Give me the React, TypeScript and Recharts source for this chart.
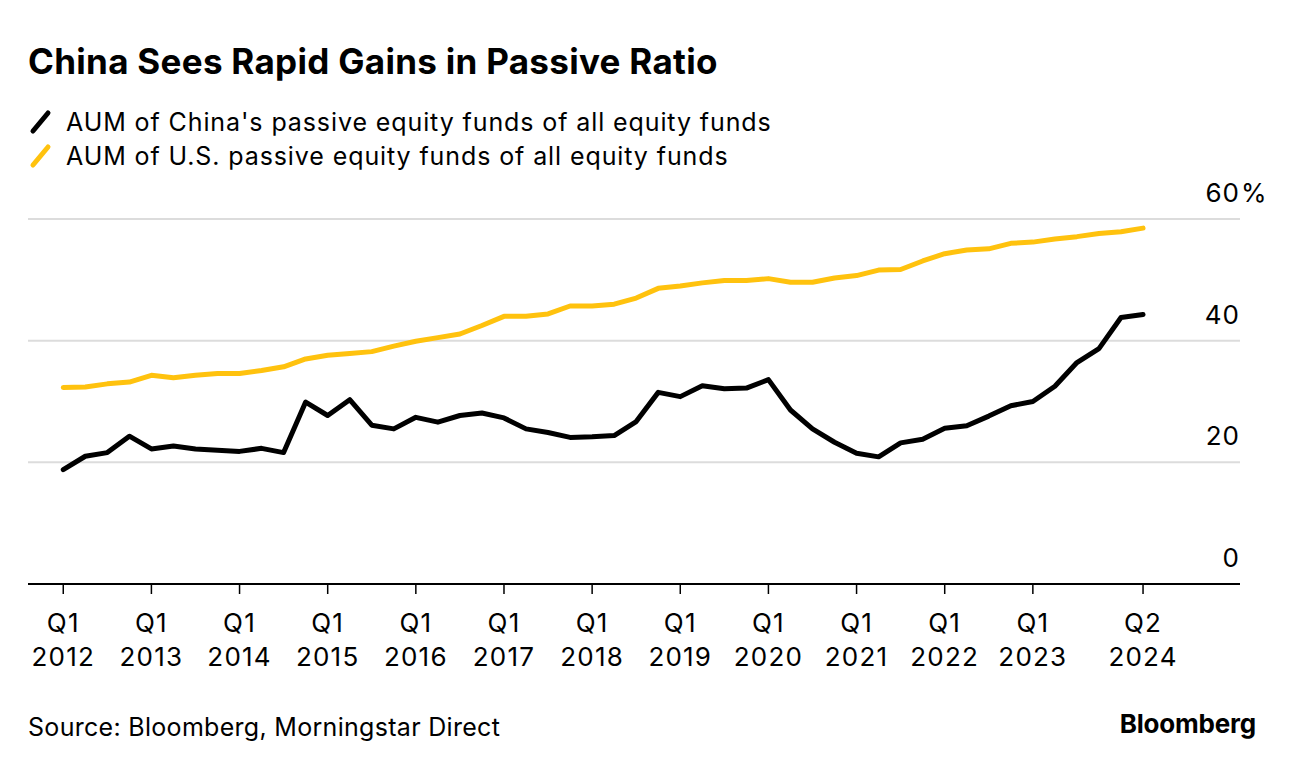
import React from 'react';
import { LineChart, Line, XAxis, YAxis, CartesianGrid } from 'recharts';

// Quarterly share of passive funds in equity fund AUM, Q1 2012 .. Q2 2024
const chinaShare = [
  18.8, 21.0, 21.6, 24.3, 22.2, 22.7, 22.2, 22.0, 21.8, 22.3,
  21.6, 29.9, 27.7, 30.3, 26.1, 25.5, 27.4, 26.6, 27.7, 28.1,
  27.3, 25.5, 24.9, 24.1, 24.2, 24.4, 26.7, 31.5, 30.8, 32.6,
  32.1, 32.2, 33.6, 28.6, 25.5, 23.3, 21.5, 20.9, 23.2, 23.8,
  25.6, 26.0, 27.6, 29.3, 30.0, 32.5, 36.4, 38.7, 43.8, 44.3,
];
const usShare = [
  32.3, 32.4, 32.9, 33.2, 34.3, 33.9, 34.3, 34.6, 34.6, 35.1,
  35.7, 37.0, 37.6, 37.9, 38.2, 39.1, 39.9, 40.5, 41.1, 42.5,
  44.0, 44.0, 44.4, 45.7, 45.7, 46.0, 47.0, 48.6, 49.0, 49.5,
  49.9, 49.9, 50.2, 49.6, 49.6, 50.3, 50.7, 51.6, 51.7, 53.1,
  54.3, 54.9, 55.1, 56.0, 56.2, 56.7, 57.1, 57.6, 57.9, 58.5,
];

// x tick positions (quarter index) and their two-line labels
const tickIndex = [0, 4, 8, 12, 16, 20, 24, 28, 32, 36, 40, 44, 49];
const tickQuarter = ['Q1', 'Q1', 'Q1', 'Q1', 'Q1', 'Q1', 'Q1', 'Q1', 'Q1', 'Q1', 'Q1', 'Q1', 'Q2'];
const tickYear = ['2012', '2013', '2014', '2015', '2016', '2017', '2018', '2019', '2020', '2021', '2022', '2023', '2024'];
const yTicks = [0, 20, 40, 60];

const FONT = 'Inter, "Noto Sans", sans-serif';
const YELLOW = '#FFC20E';

const data = chinaShare.map((v, i) => ({ q: i, china: v, us: usShare[i] }));

function XTick(props: any) {
  const { x, y, payload } = props;
  const k = tickIndex.indexOf(payload.value);
  return (
    <g fontSize={26} fill="#000" fontFamily={FONT} letterSpacing={1.2}>
      <text x={x} y={y + 36} textAnchor="middle">
        {tickQuarter[k]}
      </text>
      <text x={x} y={y + 70} textAnchor="middle">
        {tickYear[k]}
      </text>
    </g>
  );
}

function YTick(props: any) {
  const { y, payload } = props;
  const top = payload.value === 60;
  return (
    <g fontSize={26} fill="#000" fontFamily={FONT}>
      <text x={1240} y={y - 17} textAnchor="end" letterSpacing={1}>
        {payload.value}
      </text>
      {top && (
        <text x={1241} y={y - 17} textAnchor="start">
          %
        </text>
      )}
    </g>
  );
}

function LegendRow({ color, label, top }: { color: string; label: string; top: number }) {
  return (
    <div style={{ position: 'absolute', left: 28, top, display: 'flex', alignItems: 'center' }}>
      <svg width={28} height={26}>
        <line x1={5} y1={22} x2={20} y2={4} stroke={color} strokeWidth={5} strokeLinecap="round" />
      </svg>
      <span style={{ marginLeft: 10, fontSize: 25, letterSpacing: 0.9, color: '#000' }}>{label}</span>
    </div>
  );
}

export default function App() {
  return (
    <div
      style={{
        position: 'absolute',
        left: 0,
        top: 0,
        width: 1296,
        height: 768,
        background: '#fff',
        fontFamily: FONT,
        overflow: 'hidden',
      }}
    >
      <div style={{ position: 'absolute', left: 28, top: 40, fontSize: 35, fontWeight: 700, letterSpacing: 0.3, whiteSpace: 'nowrap' }}>
        China Sees Rapid Gains in Passive Ratio
      </div>
      <LegendRow color="#000" label="AUM of China's passive equity funds of all equity funds" top={107} />
      <LegendRow color={YELLOW} label="AUM of U.S. passive equity funds of all equity funds" top={141} />

      <div style={{ position: 'absolute', left: 0, top: 0 }}>
        <LineChart width={1296} height={768} data={data} margin={{ top: 219, right: 0, bottom: 94, left: 28 }}>
          <CartesianGrid vertical={false} stroke="#dcdcdc" strokeWidth={2} />
          <XAxis
            dataKey="q"
            type="number"
            domain={[-1.6, 53.4]}
            ticks={tickIndex}
            interval={0}
            height={90}
            axisLine={{ stroke: '#000', strokeWidth: 2 }}
            tickLine={{ stroke: '#000', strokeWidth: 1.5 }}
            tickSize={10}
            tick={<XTick />}
          />
          <YAxis
            orientation="right"
            width={56}
            domain={[0, 60]}
            ticks={yTicks}
            axisLine={false}
            tickLine={false}
            tick={<YTick />}
          />
          <Line
            dataKey="us"
            type="linear"
            stroke={YELLOW}
            strokeWidth={5}
            dot={false}
            strokeLinejoin="round"
            strokeLinecap="round"
            isAnimationActive={false}
          />
          <Line
            dataKey="china"
            type="linear"
            stroke="#000"
            strokeWidth={5}
            dot={false}
            strokeLinejoin="round"
            strokeLinecap="round"
            isAnimationActive={false}
          />
        </LineChart>
      </div>

      <div style={{ position: 'absolute', left: 28, top: 712, fontSize: 25, letterSpacing: 0.3, whiteSpace: 'nowrap' }}>
        Source: Bloomberg, Morningstar Direct
      </div>
      <div style={{ position: 'absolute', right: 40, top: 708, fontSize: 26, fontWeight: 700, letterSpacing: -0.2 }}>
        Bloomberg
      </div>
    </div>
  );
}
